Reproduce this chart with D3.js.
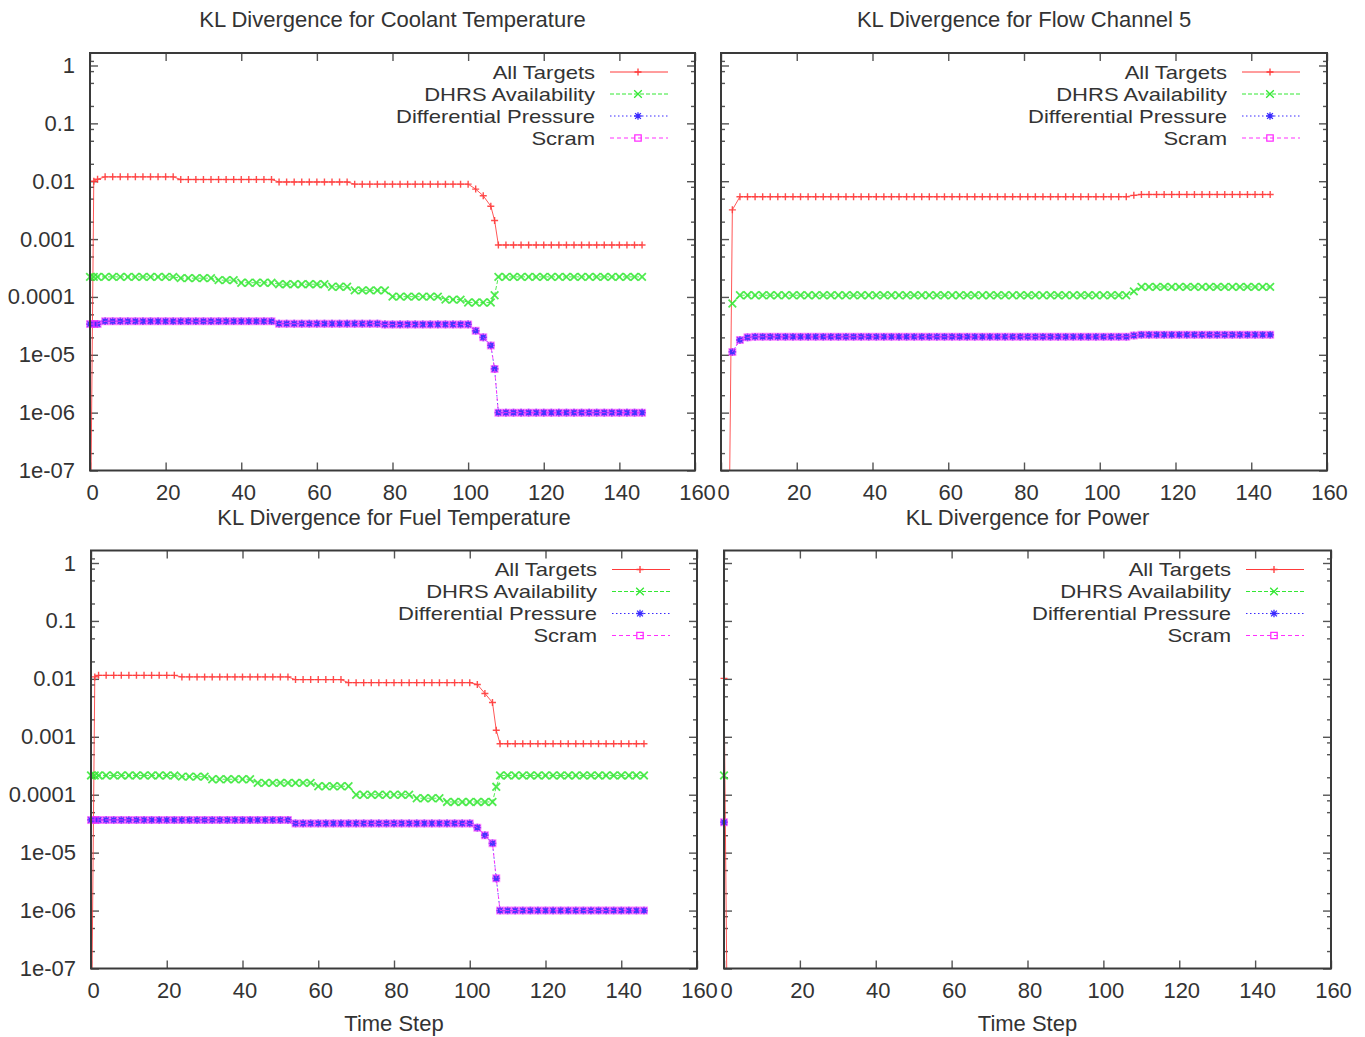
<!DOCTYPE html>
<html><head><meta charset="utf-8">
<script src="https://cdn.jsdelivr.net/npm/d3@7"></script>
<style>
body{margin:0;background:#fff}
svg text{font-family:"Liberation Sans",Arial,Helvetica,sans-serif;fill:#333}
</style>
</head><body>
<svg id="c" width="1365" height="1037"></svg>
<script>
// ---------- data ----------
const seriesNames = ["All Targets","DHRS Availability","Differential Pressure","Scram"];
const panelTitles = ["KL Divergence for Coolant Temperature","KL Divergence for Flow Channel 5","KL Divergence for Fuel Temperature","KL Divergence for Power"];
const xTickValues = [0,20,40,60,80,100,120,140,160];
const yTickValues = [1,0.1,0.01,0.001,0.0001,1e-5,1e-6,1e-7];
const yTickLabels = ["1","0.1","0.01","0.001","0.0001","1e-05","1e-06","1e-07"];
const yMinorFactors = [0.8,0.5,0.2];
const xAxisTitle = "Time Step";

const timeSteps = [0,1,2,4,6,8,10,12,14,16,18,20,22,24,26,28,30,32,34,36,38,40,42,44,46,48,50,52,54,56,58,60,62,64,66,68,70,72,74,76,78,80,82,84,86,88,90,92,94,96,98,100,102,104,106,107,108,110,112,114,116,118,120,122,124,126,128,130,132,134,136,138,140,142,144,146];

const coolantAll = [1e-9,0.0100,0.0108,
 0.0119,0.0119,0.0119,0.0119,0.0119,0.0119,0.0119,0.0119,0.0119,0.0119,
 0.0107,0.0107,0.0107,0.0107,0.0107,0.0107,0.0107,0.0107,0.0107,0.0107,0.0107,0.0107,0.0107,
 0.0097,0.0097,0.0097,0.0097,0.0097,0.0097,0.0097,0.0097,0.0097,0.0097,
 0.0089,0.0089,0.0089,0.0089,0.0089,0.0089,0.0089,0.0089,0.0089,0.0089,0.0089,0.0089,0.0089,0.0089,0.0089,0.0089,
 0.0073,0.0056,0.0037,0.0021,
 0.00079,0.00079,0.00079,0.00079,0.00079,0.00079,0.00079,0.00079,0.00079,0.00079,
 0.00079,0.00079,0.00079,0.00079,0.00079,0.00079,0.00079,0.00079,0.00079,0.00079];
const coolantDHRS = [2.22e-4,2.22e-4,2.22e-4,
 2.22e-4,2.22e-4,2.22e-4,2.22e-4,2.22e-4,2.22e-4,2.22e-4,2.22e-4,2.22e-4,2.22e-4,
 2.11e-4,2.11e-4,2.11e-4,2.11e-4,2.11e-4,
 1.95e-4,1.95e-4,1.95e-4,
 1.76e-4,1.76e-4,1.76e-4,1.76e-4,1.76e-4,
 1.66e-4,1.66e-4,1.66e-4,1.66e-4,1.66e-4,1.66e-4,1.66e-4,
 1.50e-4,1.50e-4,1.50e-4,
 1.30e-4,1.30e-4,1.30e-4,1.30e-4,1.30e-4,
 1.01e-4,1.01e-4,1.01e-4,1.01e-4,1.01e-4,1.01e-4,1.01e-4,
 9.0e-5,9.0e-5,9.0e-5,
 8.0e-5,8.0e-5,8.0e-5,8.0e-5,
 1.07e-4,
 2.22e-4,2.22e-4,2.22e-4,2.22e-4,2.22e-4,2.22e-4,2.22e-4,2.22e-4,2.22e-4,2.22e-4,
 2.22e-4,2.22e-4,2.22e-4,2.22e-4,2.22e-4,2.22e-4,2.22e-4,2.22e-4,2.22e-4,2.22e-4];
const coolantDP = [3.4e-5,3.4e-5,3.4e-5,
 3.8e-5,3.8e-5,3.8e-5,3.8e-5,3.8e-5,3.8e-5,3.8e-5,3.8e-5,3.8e-5,3.8e-5,
 3.8e-5,3.8e-5,3.8e-5,3.8e-5,3.8e-5,3.8e-5,3.8e-5,3.8e-5,3.8e-5,3.8e-5,
 3.8e-5,3.8e-5,3.8e-5,
 3.45e-5,3.45e-5,3.45e-5,3.45e-5,3.45e-5,3.45e-5,3.45e-5,3.45e-5,3.45e-5,3.45e-5,3.45e-5,3.45e-5,3.45e-5,3.45e-5,
 3.35e-5,3.35e-5,3.35e-5,3.35e-5,3.35e-5,3.35e-5,3.35e-5,3.35e-5,3.35e-5,3.35e-5,3.35e-5,3.35e-5,
 2.6e-5,2.0e-5,1.45e-5,5.7e-6,
 1.0e-6,1.0e-6,1.0e-6,1.0e-6,1.0e-6,1.0e-6,1.0e-6,1.0e-6,1.0e-6,1.0e-6,
 1.0e-6,1.0e-6,1.0e-6,1.0e-6,1.0e-6,1.0e-6,1.0e-6,1.0e-6,1.0e-6,1.0e-6];
const coolantScram = [3.4e-5,3.4e-5,3.4e-5,
 3.8e-5,3.8e-5,3.8e-5,3.8e-5,3.8e-5,3.8e-5,3.8e-5,3.8e-5,3.8e-5,3.8e-5,
 3.8e-5,3.8e-5,3.8e-5,3.8e-5,3.8e-5,3.8e-5,3.8e-5,3.8e-5,3.8e-5,3.8e-5,
 3.8e-5,3.8e-5,3.8e-5,
 3.45e-5,3.45e-5,3.45e-5,3.45e-5,3.45e-5,3.45e-5,3.45e-5,3.45e-5,3.45e-5,3.45e-5,3.45e-5,3.45e-5,3.45e-5,3.45e-5,
 3.35e-5,3.35e-5,3.35e-5,3.35e-5,3.35e-5,3.35e-5,3.35e-5,3.35e-5,3.35e-5,3.35e-5,3.35e-5,3.35e-5,
 2.6e-5,2.0e-5,1.45e-5,5.7e-6,
 1.0e-6,1.0e-6,1.0e-6,1.0e-6,1.0e-6,1.0e-6,1.0e-6,1.0e-6,1.0e-6,1.0e-6,
 1.0e-6,1.0e-6,1.0e-6,1.0e-6,1.0e-6,1.0e-6,1.0e-6,1.0e-6,1.0e-6,1.0e-6];

const flowTimes = [2,3,5,7,9,11,13,15,17,19,21,23,25,27,29,31,33,35,37,39,41,43,45,47,49,51,53,55,57,59,61,63,65,67,69,71,73,75,77,79,81,83,85,87,89,91,93,95,97,99,101,103,105,107,109,111,113,115,117,119,121,123,125,127,129,131,133,135,137,139,141,143,145];
const flowAll = [1e-9,0.0032,
 0.0054,0.0054,0.0054,0.0054,0.0054,0.0054,0.0054,0.0054,0.0054,0.0054,
 0.0054,0.0054,0.0054,0.0054,0.0054,0.0054,0.0054,0.0054,0.0054,0.0054,
 0.0054,0.0054,0.0054,0.0054,0.0054,0.0054,0.0054,0.0054,0.0054,0.0054,
 0.0054,0.0054,0.0054,0.0054,0.0054,0.0054,0.0054,0.0054,0.0054,0.0054,
 0.0054,0.0054,0.0054,0.0054,0.0054,0.0054,0.0054,0.0054,0.0054,0.0054,
 0.0054,0.0054,
 0.0057,
 0.0059,0.0059,0.0059,0.0059,0.0059,0.0059,0.0059,0.0059,0.0059,
 0.0059,0.0059,0.0059,0.0059,0.0059,0.0059,0.0059,0.0059,0.0059];
const flowDHRS = [null,7.7e-5,
 1.07e-4,1.07e-4,1.07e-4,1.07e-4,1.07e-4,1.07e-4,1.07e-4,1.07e-4,1.07e-4,1.07e-4,
 1.07e-4,1.07e-4,1.07e-4,1.07e-4,1.07e-4,1.07e-4,1.07e-4,1.07e-4,1.07e-4,1.07e-4,
 1.07e-4,1.07e-4,1.07e-4,1.07e-4,1.07e-4,1.07e-4,1.07e-4,1.07e-4,1.07e-4,1.07e-4,
 1.07e-4,1.07e-4,1.07e-4,1.07e-4,1.07e-4,1.07e-4,1.07e-4,1.07e-4,1.07e-4,1.07e-4,
 1.07e-4,1.07e-4,1.07e-4,1.07e-4,1.07e-4,1.07e-4,1.07e-4,1.07e-4,1.07e-4,1.07e-4,
 1.07e-4,1.07e-4,
 1.25e-4,
 1.49e-4,1.49e-4,1.49e-4,1.49e-4,1.49e-4,1.49e-4,1.49e-4,1.49e-4,1.49e-4,
 1.49e-4,1.49e-4,1.49e-4,1.49e-4,1.49e-4,1.49e-4,1.49e-4,1.49e-4,1.49e-4];
const flowDP = [null,1.12e-5,1.8e-5,2.0e-5,
 2.05e-5,2.05e-5,2.05e-5,2.05e-5,2.05e-5,2.05e-5,2.05e-5,2.05e-5,2.05e-5,2.05e-5,
 2.05e-5,2.05e-5,2.05e-5,2.05e-5,2.05e-5,2.05e-5,2.05e-5,2.05e-5,2.05e-5,2.05e-5,
 2.05e-5,2.05e-5,2.05e-5,2.05e-5,2.05e-5,2.05e-5,2.05e-5,2.05e-5,2.05e-5,2.05e-5,
 2.05e-5,2.05e-5,2.05e-5,2.05e-5,2.05e-5,2.05e-5,2.05e-5,2.05e-5,2.05e-5,2.05e-5,
 2.05e-5,2.05e-5,2.05e-5,2.05e-5,2.05e-5,2.05e-5,2.05e-5,2.05e-5,2.05e-5,2.05e-5,
 2.15e-5,
 2.22e-5,2.22e-5,2.22e-5,2.22e-5,2.22e-5,2.22e-5,2.22e-5,2.22e-5,2.22e-5,
 2.22e-5,2.22e-5,2.22e-5,2.22e-5,2.22e-5,2.22e-5,2.22e-5,2.22e-5,2.22e-5];
const flowScram = [null,1.12e-5,1.8e-5,2.0e-5,
 2.05e-5,2.05e-5,2.05e-5,2.05e-5,2.05e-5,2.05e-5,2.05e-5,2.05e-5,2.05e-5,2.05e-5,
 2.05e-5,2.05e-5,2.05e-5,2.05e-5,2.05e-5,2.05e-5,2.05e-5,2.05e-5,2.05e-5,2.05e-5,
 2.05e-5,2.05e-5,2.05e-5,2.05e-5,2.05e-5,2.05e-5,2.05e-5,2.05e-5,2.05e-5,2.05e-5,
 2.05e-5,2.05e-5,2.05e-5,2.05e-5,2.05e-5,2.05e-5,2.05e-5,2.05e-5,2.05e-5,2.05e-5,
 2.05e-5,2.05e-5,2.05e-5,2.05e-5,2.05e-5,2.05e-5,2.05e-5,2.05e-5,2.05e-5,2.05e-5,
 2.15e-5,
 2.22e-5,2.22e-5,2.22e-5,2.22e-5,2.22e-5,2.22e-5,2.22e-5,2.22e-5,2.22e-5,
 2.22e-5,2.22e-5,2.22e-5,2.22e-5,2.22e-5,2.22e-5,2.22e-5,2.22e-5,2.22e-5];

const fuelAll = [1e-9,0.0108,0.0115,
 0.0115,0.0115,0.0115,0.0115,0.0115,0.0115,0.0115,0.0115,0.0115,0.0115,
 0.0108,0.0108,0.0108,0.0108,0.0108,0.0108,0.0108,0.0108,0.0108,0.0108,0.0108,0.0108,0.0108,0.0108,0.0108,
 0.0097,0.0097,0.0097,0.0097,0.0097,0.0097,0.0097,
 0.0086,0.0086,0.0086,0.0086,0.0086,0.0086,0.0086,0.0086,0.0086,0.0086,0.0086,0.0086,0.0086,0.0086,0.0086,0.0086,0.0086,
 0.0080,0.0056,0.0039,0.0013,
 0.00076,0.00076,0.00076,0.00076,0.00076,0.00076,0.00076,0.00076,0.00076,0.00076,
 0.00076,0.00076,0.00076,0.00076,0.00076,0.00076,0.00076,0.00076,0.00076,0.00076];
const fuelDHRS = [2.15e-4,2.15e-4,2.15e-4,
 2.15e-4,2.15e-4,2.15e-4,2.15e-4,2.15e-4,2.15e-4,2.15e-4,2.15e-4,2.15e-4,2.15e-4,
 2.05e-4,2.05e-4,2.05e-4,2.05e-4,
 1.85e-4,1.85e-4,1.85e-4,1.85e-4,1.85e-4,1.85e-4,
 1.60e-4,1.60e-4,1.60e-4,1.60e-4,1.60e-4,1.60e-4,1.60e-4,1.60e-4,
 1.40e-4,1.40e-4,1.40e-4,1.40e-4,1.40e-4,
 1.00e-4,1.00e-4,1.00e-4,1.00e-4,1.00e-4,1.00e-4,1.00e-4,1.00e-4,
 8.7e-5,8.7e-5,8.7e-5,8.7e-5,
 7.5e-5,7.5e-5,7.5e-5,7.5e-5,7.5e-5,7.5e-5,7.5e-5,
 1.37e-4,
 2.15e-4,2.15e-4,2.15e-4,2.15e-4,2.15e-4,2.15e-4,2.15e-4,2.15e-4,2.15e-4,2.15e-4,
 2.15e-4,2.15e-4,2.15e-4,2.15e-4,2.15e-4,2.15e-4,2.15e-4,2.15e-4,2.15e-4,2.15e-4];
const fuelDP = [3.67e-5,3.67e-5,3.67e-5,
 3.67e-5,3.67e-5,3.67e-5,3.67e-5,3.67e-5,3.67e-5,3.67e-5,3.67e-5,3.67e-5,3.67e-5,
 3.67e-5,3.67e-5,3.67e-5,3.67e-5,3.67e-5,3.67e-5,3.67e-5,3.67e-5,3.67e-5,3.67e-5,
 3.67e-5,3.67e-5,3.67e-5,3.67e-5,3.67e-5,
 3.2e-5,3.2e-5,3.2e-5,3.2e-5,3.2e-5,3.2e-5,3.2e-5,3.2e-5,3.2e-5,3.2e-5,3.2e-5,3.2e-5,
 3.2e-5,3.2e-5,3.2e-5,3.2e-5,3.2e-5,3.2e-5,3.2e-5,3.2e-5,3.2e-5,3.2e-5,3.2e-5,3.2e-5,
 2.7e-5,2.0e-5,1.45e-5,3.6e-6,
 1.0e-6,1.0e-6,1.0e-6,1.0e-6,1.0e-6,1.0e-6,1.0e-6,1.0e-6,1.0e-6,1.0e-6,
 1.0e-6,1.0e-6,1.0e-6,1.0e-6,1.0e-6,1.0e-6,1.0e-6,1.0e-6,1.0e-6,1.0e-6];
const fuelScram = [3.67e-5,3.67e-5,3.67e-5,
 3.67e-5,3.67e-5,3.67e-5,3.67e-5,3.67e-5,3.67e-5,3.67e-5,3.67e-5,3.67e-5,3.67e-5,
 3.67e-5,3.67e-5,3.67e-5,3.67e-5,3.67e-5,3.67e-5,3.67e-5,3.67e-5,3.67e-5,3.67e-5,
 3.67e-5,3.67e-5,3.67e-5,3.67e-5,3.67e-5,
 3.2e-5,3.2e-5,3.2e-5,3.2e-5,3.2e-5,3.2e-5,3.2e-5,3.2e-5,3.2e-5,3.2e-5,3.2e-5,3.2e-5,
 3.2e-5,3.2e-5,3.2e-5,3.2e-5,3.2e-5,3.2e-5,3.2e-5,3.2e-5,3.2e-5,3.2e-5,3.2e-5,3.2e-5,
 2.7e-5,2.0e-5,1.45e-5,3.6e-6,
 1.0e-6,1.0e-6,1.0e-6,1.0e-6,1.0e-6,1.0e-6,1.0e-6,1.0e-6,1.0e-6,1.0e-6,
 1.0e-6,1.0e-6,1.0e-6,1.0e-6,1.0e-6,1.0e-6,1.0e-6,1.0e-6,1.0e-6,1.0e-6];

const powerTimes = [0,1];
const powerAll = [0.0102,1e-9];
const powerDHRS = [2.15e-4,null];
const powerDP = [3.35e-5,null];
const powerScram = [3.35e-5,null];

// ---------- layout / style ----------
const panels = [
 {title:panelTitles[0], times:timeSteps, data:[coolantAll,coolantDHRS,coolantDP,coolantScram], left:90, right:695, top:53, bottom:470.5, yOne:65.5, yLabels:true, xTitle:false, titleY:19},
 {title:panelTitles[1], times:flowTimes, data:[flowAll,flowDHRS,flowDP,flowScram], left:721, right:1327, top:53, bottom:470.5, yOne:65.5, yLabels:false, xTitle:false, titleY:19},
 {title:panelTitles[2], times:timeSteps, data:[fuelAll,fuelDHRS,fuelDP,fuelScram], left:91, right:697, top:550.5, bottom:968.5, yOne:563, yLabels:true, xTitle:true, titleY:517},
 {title:panelTitles[3], times:powerTimes, data:[powerAll,powerDHRS,powerDP,powerScram], left:724, right:1331, top:550.5, bottom:968.5, yOne:563, yLabels:false, xTitle:true, titleY:517}
];
const colors = ["#ff3a3a","#33e833","#3a2aff","#ff30ff"];
const markerOpacity = [0.9,0.85,0.95,0.55];
const markerWidth = [1.4,1.8,1.8,1.6];
const dashes = [null,"4,2","1.5,2.5","4,3"];
const markerPaths = [
 "M-3.5,0H3.5M0,-3.5V3.5",
 "M-3.8,-3.8L3.8,3.8M-3.8,3.8L3.8,-3.8",
 "M-3.8,0H3.8M0,-3.8V3.8M-2.9,-2.9L2.9,2.9M-2.9,2.9L2.9,-2.9",
 "M-3.2,-3.2H3.2V3.2H-3.2Z"
];
const FONT = 22;
const LEGEND_FONT = 19;

panels.forEach(p => p.data.forEach(s => { if (s.length !== p.times.length) throw new Error("length mismatch " + p.title + " " + s.length + " vs " + p.times.length); }));

const svg = d3.select("#c");
svg.append("rect").attr("width",1365).attr("height",1037).attr("fill","#fff");

panels.forEach((p, pi) => {
  const x = d3.scaleLinear().domain([0,160]).range([p.left,p.right]);
  const y = d3.scaleLog().domain([1e-7,1]).range([p.bottom,p.yOne]);
  const yMax = y.invert(p.top);
  const g = svg.append("g");

  const minorVals = [];
  yTickValues.forEach(v => yMinorFactors.forEach(f => { const m = v*f; if (m > 1e-7) minorVals.push(m); }));
  minorVals.push(1.2);

  const styleAxis = sel => {
    sel.select(".domain").remove();
    sel.selectAll(".tick line").attr("stroke","#555").attr("stroke-width",1.4);
    sel.selectAll("text").attr("font-size",FONT).attr("font-family","Liberation Sans, Arial, sans-serif").attr("fill","#333");
  };

  g.append("g").attr("transform",`translate(0,${p.bottom})`)
    .call(d3.axisBottom(x).tickValues(xTickValues).tickSize(-8).tickPadding(14).tickFormat(d3.format("d")))
    .call(styleAxis).call(s => s.selectAll("text").attr("dx",2));
  g.append("g").attr("transform",`translate(0,${p.top})`)
    .call(d3.axisTop(x).tickValues(xTickValues).tickSize(-8).tickFormat(""))
    .call(styleAxis);
  g.append("g").attr("transform",`translate(${p.left},0)`)
    .call(d3.axisLeft(y).tickValues(yTickValues).tickSize(-8).tickPadding(15)
      .tickFormat((d,i) => p.yLabels ? yTickLabels[i] : ""))
    .call(styleAxis);
  g.append("g").attr("transform",`translate(${p.left},0)`)
    .call(d3.axisLeft(y).tickValues(minorVals.filter(v => v < yMax)).tickSize(-4).tickFormat(""))
    .call(styleAxis);
  g.append("g").attr("transform",`translate(${p.right},0)`)
    .call(d3.axisRight(y).tickValues(yTickValues).tickSize(-8).tickFormat(""))
    .call(styleAxis);
  g.append("g").attr("transform",`translate(${p.right},0)`)
    .call(d3.axisRight(y).tickValues(minorVals.filter(v => v < yMax)).tickSize(-4).tickFormat(""))
    .call(styleAxis);

  const cid = "clip" + pi;
  svg.append("clipPath").attr("id",cid).append("rect")
    .attr("x",p.left).attr("y",p.top).attr("width",p.right-p.left).attr("height",p.bottom-p.top);

  p.data.forEach((vals, si) => {
    const pts = p.times.map((t,j) => ({t, v: vals[j]}));
    const line = d3.line().defined(d => d.v != null).x(d => x(d.t)).y(d => y(d.v));
    g.append("path").datum(pts).attr("d",line).attr("fill","none")
      .attr("stroke",colors[si]).attr("stroke-width",1).attr("stroke-opacity",0.85)
      .attr("stroke-dasharray",dashes[si]).attr("clip-path",`url(#${cid})`);
    g.append("g").selectAll("path").data(pts.filter(d => d.v != null && d.v >= 1e-7 && d.v <= yMax))
      .join("path").attr("d",markerPaths[si])
      .attr("transform",d => `translate(${x(d.t)},${y(d.v)})`)
      .attr("fill","none").attr("stroke",colors[si]).attr("stroke-width",markerWidth[si])
      .attr("stroke-opacity", markerOpacity[si]);
  });

  g.append("rect").attr("x",p.left).attr("y",p.top).attr("width",p.right-p.left).attr("height",p.bottom-p.top)
    .attr("fill","none").attr("stroke","#3a3a3a").attr("stroke-width",2);

  // legend
  const lg = g.append("g");
  seriesNames.forEach((name, si) => {
    const cy = p.top + 19 + si*22;
    const t = lg.append("text").attr("x",p.right-100).attr("y",cy).attr("dy","0.36em")
      .attr("text-anchor","end").attr("font-size",LEGEND_FONT).text(name);
    const w = t.node().getComputedTextLength();
    t.attr("textLength", w*FONT/LEGEND_FONT).attr("lengthAdjust","spacingAndGlyphs");
    lg.append("line").attr("x1",p.right-85).attr("x2",p.right-27).attr("y1",cy).attr("y2",cy)
      .attr("stroke",colors[si]).attr("stroke-width",1).attr("stroke-dasharray",dashes[si]);
    lg.append("path").attr("d",markerPaths[si]).attr("transform",`translate(${p.right-57},${cy})`)
      .attr("fill","none").attr("stroke",colors[si]).attr("stroke-width",1.3);
  });

  g.append("text").attr("x",(p.left+p.right)/2).attr("y",p.titleY).attr("dy","0.36em")
    .attr("text-anchor","middle").attr("font-size",FONT).text(p.title);
  if (p.xTitle) {
    g.append("text").attr("x",(p.left+p.right)/2).attr("y",1023).attr("dy","0.36em")
      .attr("text-anchor","middle").attr("font-size",FONT).text(xAxisTitle);
  }
});
</script>
</body></html>
